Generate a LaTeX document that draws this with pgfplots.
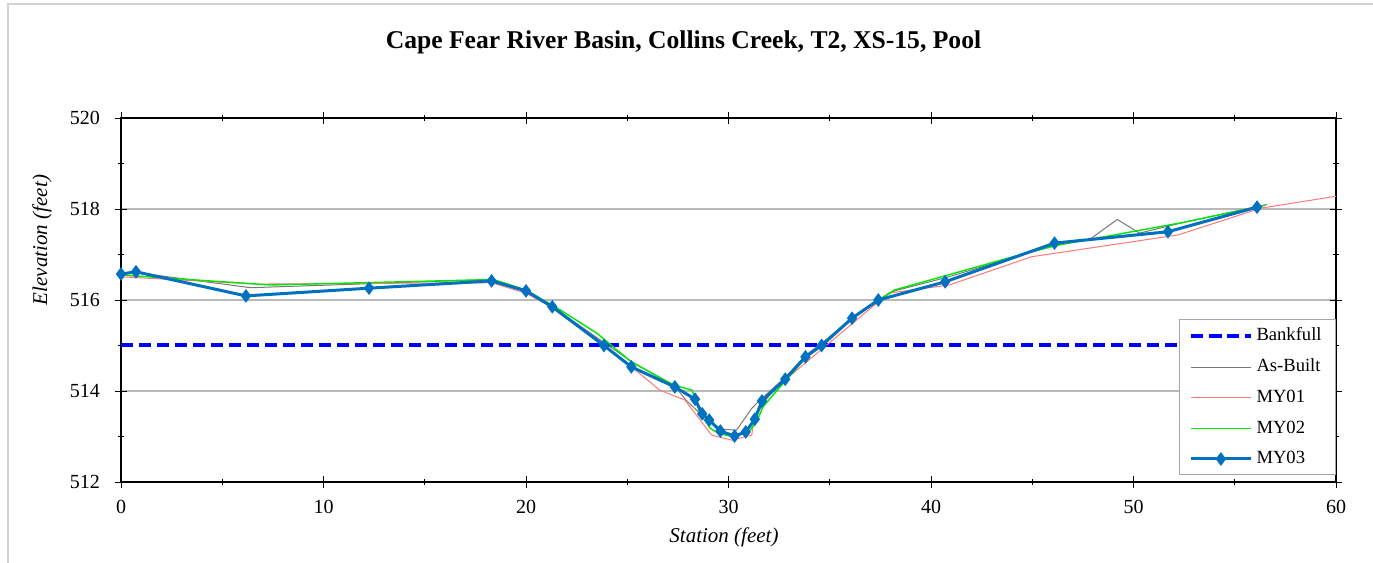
\documentclass[border=0pt]{standalone}
\usepackage{pgfplots}
\pgfplotsset{compat=1.18}
\usepackage{fontspec}
\setmainfont{Liberation Serif}
\definecolor{myblue}{RGB}{0,112,192}
\definecolor{bfblue}{RGB}{0,0,255}
\definecolor{abgray}{RGB}{120,120,120}
\definecolor{myred}{RGB}{255,120,120}
\definecolor{mygreen}{RGB}{0,230,0}
\begin{document}
\begin{tikzpicture}[x=0.5pt,y=0.5pt]
\path[use as bounding box] (0,0) rectangle (1373,563);
\draw[gray!35, line width=0.6pt] (8,0) -- (8,559) -- (1373,559);
\node[font=\fontsize{12.8}{15}\selectfont\bfseries] at (683.5,521) {Cape Fear River Basin, Collins Creek, T2, XS-15, Pool};
\node[font=\fontsize{10.5}{12}\selectfont\itshape] at (724,26) {Station (feet)};
\node[font=\fontsize{10.5}{12}\selectfont\itshape, rotate=90] at (42,323) {Elevation (feet)};
\begin{axis}[
  at={(60.5pt,40.5pt)}, anchor=south west,
  scale only axis, width=607.5pt, height=182pt,
  xmin=0, xmax=60, ymin=512, ymax=520,
  xtick={0,10,...,60}, ytick={512,514,...,520},
  minor x tick num=1, minor y tick num=1,
  tick align=center, major tick length=6pt, minor tick length=3pt,
  tick style={black, line width=0.4pt},
  axis line style={black, line width=1pt},
  ymajorgrids, grid style={gray!55, line width=0.6pt},
  ticklabel style={font=\fontsize{10}{12}\selectfont},
  /pgf/number format/assume math mode=true,
  /pgf/number format/1000 sep={},
  xticklabel style={yshift=-2.5pt},
  yticklabel style={xshift=-4pt},
  legend style={at={(1,0.019)}, anchor=south east, draw=gray!70, fill=white,
    font=\fontsize{9.3}{11}\selectfont, row sep=3.6pt, inner xsep=5pt, inner ysep=2pt,
    cells={anchor=west}},
  legend image code/.code={\draw[mark repeat=2,mark phase=2,#1] plot coordinates {(0cm,0cm) (0.52cm,0cm) (1.04cm,0cm)};},
]
\addplot[bfblue, line width=2pt, dash pattern=on 6pt off 3pt] coordinates {(0,515) (60,515)};
\addlegendentry{Bankfull}
\addplot[abgray, line width=0.5pt] coordinates {
(0,516.57) (0.8,516.6) (6.4,516.27) (18.3,516.45) (20,516.2) (21.3,515.85) (23.9,515.05)
(25.2,514.65) (27.35,514.1) (27.9,513.8) (28.75,513.44) (29.66,513.16) (30.4,513.14)
(31.15,513.62) (31.55,513.8) (32.8,514.3) (33.8,514.78) (34.6,515.05) (36.1,515.6)
(37.4,516.0) (38.2,516.2) (40.8,516.5) (46.2,517.22) (47.8,517.32) (49.2,517.77)
(50.3,517.47) (52.6,517.72) (56.6,518.1)};
\addlegendentry{As-Built}
\addplot[myred, line width=0.5pt] coordinates {
(0,516.51) (6.7,516.35) (18.3,516.38) (20,516.15) (21.7,515.74) (25.3,514.5) (26.6,514.02)
(27.85,513.8) (29.17,513.03) (30.16,512.92) (31.15,513.03) (31.25,513.4) (32.2,514.02)
(37.1,515.85) (37.9,516.15) (40.9,516.33) (44.96,516.95) (52.2,517.43) (56.3,518.02) (60,518.28)};
\addlegendentry{MY01}
\addplot[mygreen, line width=0.7pt] coordinates {
(0,516.55) (7.4,516.33) (18.4,516.45) (20,516.22) (21.7,515.78) (23.5,515.27) (25.2,514.64)
(27.3,514.13) (28.2,514.02) (28.6,513.5) (29.1,513.18) (29.5,513.07) (30.15,513.0)
(30.97,513.08) (31.4,513.33) (31.7,513.65) (32.8,514.22) (33.8,514.72) (36.2,515.62)
(37.4,516.0) (38.2,516.22) (44.05,516.95) (46.2,517.2) (52.4,517.7) (56.5,518.08)};
\addlegendentry{MY02}
\addplot[myblue, line width=1.5pt, mark=diamond*, mark size=2.2pt, mark options={solid, fill=myblue}] coordinates {
(0,516.57) (0.74,516.62) (6.17,516.09) (12.25,516.26) (18.3,516.42) (20.0,516.2)
(21.3,515.85) (23.85,515.0) (25.2,514.53) (27.35,514.09) (28.35,513.82) (28.7,513.5)
(29.05,513.36) (29.6,513.12) (30.3,513.01) (30.85,513.1) (31.3,513.38) (31.65,513.78)
(32.8,514.26) (33.8,514.75) (34.6,515.0) (36.1,515.6) (37.4,516.0) (40.7,516.4)
(46.1,517.25) (51.7,517.5) (56.1,518.04)};
\addlegendentry{MY03}
\end{axis}
\end{tikzpicture}
\end{document}
